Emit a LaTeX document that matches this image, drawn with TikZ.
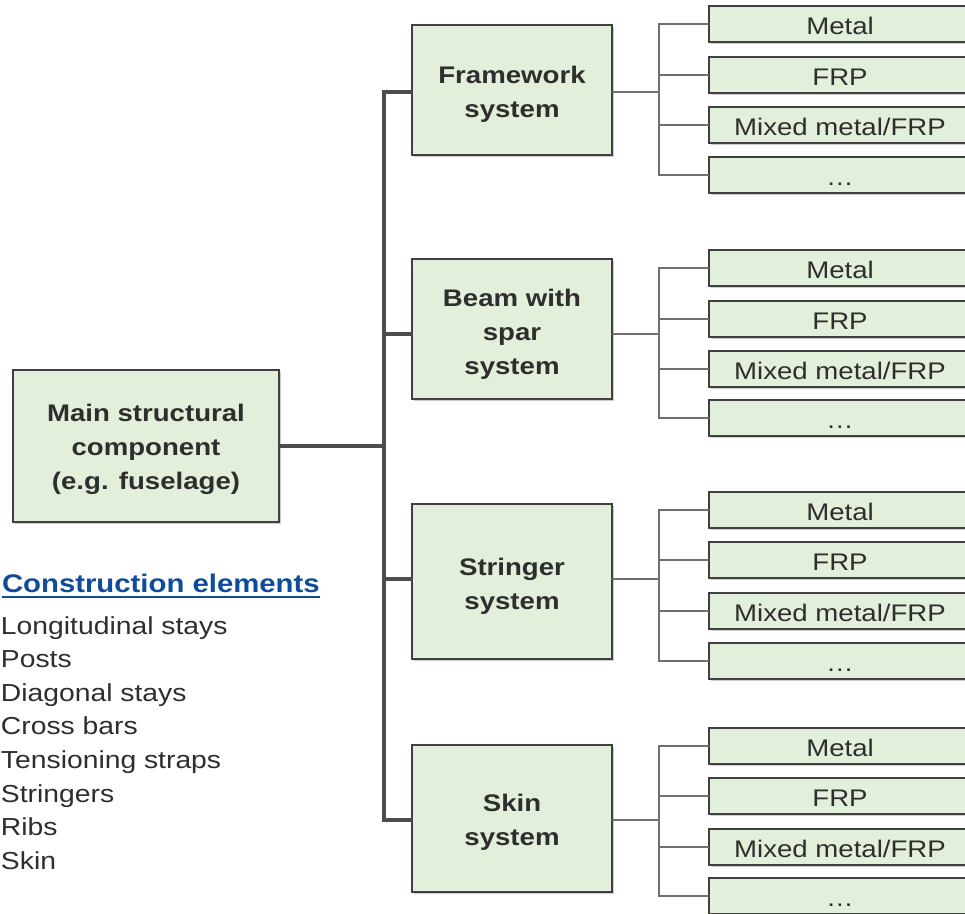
\documentclass[tikz,border=0pt]{standalone}
\usepackage{fontspec}
\setmainfont{Liberation Sans}[FakeStretch=1.15]
\usetikzlibrary{shadows}
\definecolor{boxfill}{HTML}{E2EFDA}
\definecolor{boxline}{HTML}{404040}
\definecolor{txt}{HTML}{2E2E2E}
\definecolor{linkdark}{HTML}{4D4D4D}
\definecolor{linklight}{HTML}{707070}
\definecolor{titleblue}{HTML}{0F4C9A}
% invisible strut that lowers a multi-line label inside its box
\newcommand\lowerby[1]{\rule{0pt}{#1}}

\begin{document}
\begin{tikzpicture}[x=1pt,y=-1pt,
  every node/.style={font=\fontsize{24}{34}\selectfont, text=txt, inner sep=0pt, outer sep=0pt},
  boxbase/.style={draw=boxline, line width=1.5pt, fill=boxfill,
    drop shadow={shadow xshift=1.5pt, shadow yshift=-1.5pt, fill=black, opacity=0.2}},
  mainbox/.style={boxbase, minimum width=266pt, minimum height=152pt, align=center,
    font=\fontsize{24}{34}\selectfont\bfseries},
  sysbox/.style={boxbase, minimum width=200pt, align=center,
    font=\fontsize{24}{34}\selectfont\bfseries},
  leafbox/.style={boxbase, minimum width=262pt, minimum height=36pt,
    text height=21pt, text depth=0pt},
  trunk/.style={draw=linkdark, line width=4pt},
  twig/.style={draw=linklight, line width=1.5pt},
  listitem/.style={anchor=base west, font=\fontsize{24.6}{34}\selectfont}
]
\useasboundingbox (0,0) rectangle (965,913);

% root component
\node[mainbox] (main) at (146,446) {\lowerby{23.5pt}Main structural\\component\\(e.g. fuselage)};

% structural systems
\node[sysbox, minimum height=130pt] (fw) at (512,90)    {\lowerby{25.5pt}Framework\\system};
\node[sysbox, minimum height=140pt] (bm) at (512,329)   {\lowerby{27pt}Beam with\\spar\\system};
\node[sysbox, minimum height=155pt] (st) at (512,581.5) {\lowerby{27pt}Stringer\\system};
\node[sysbox, minimum height=147pt] (sk) at (512,818.5) {\lowerby{25.5pt}Skin\\system};

% material options for each system
\foreach \g/\ya/\yb/\yc/\yd in {fw/24/75/125/175, bm/268/319/369/418,
                                st/510/560/611/661, sk/746/796/847/896} {
  \node[leafbox] (\g-1) at (840,\ya) {Metal};
  \node[leafbox] (\g-2) at (840,\yb) {FRP};
  \node[leafbox] (\g-3) at (840,\yc) {Mixed metal/FRP};
  \node[leafbox] (\g-4) at (840,\yd) {…};
}

% main trunk
\coordinate (jA) at (384,92);
\coordinate (jB) at (384,334);
\coordinate (jC) at (384,579);
\coordinate (jD) at (384,820);
\draw[trunk] (jA -| fw.west) -- (jA) -- (jD) -- (jD -| sk.west);
\draw[trunk] (jB) -- (jB -| bm.west);
\draw[trunk] (jC) -- (jC -| st.west);
\draw[trunk] (main.east) -- (main.east -| jA);

% branches to the material boxes
\foreach \g/\yin in {fw/92, bm/334, st/579, sk/820} {
  \coordinate (\g-bus) at (659,\yin);
  \draw[twig] (\g.east |- \g-bus) -- (\g-bus);
  \draw[twig] (\g-1.west) -| (\g-bus) |- (\g-4.west);
  \draw[twig] (\g-2.west) -- (\g-2.west -| \g-bus);
  \draw[twig] (\g-3.west) -- (\g-3.west -| \g-bus);
}

% construction elements list
\node[anchor=base west, font=\fontsize{25.5}{34}\selectfont\bfseries, text=titleblue]
  (ce) at (2,592) {Construction elements};
\draw[titleblue, line width=2.5pt] ([yshift=-5pt]ce.base west) -- ([yshift=-5pt]ce.base east);
\foreach \t [count=\i] in {Longitudinal stays, Posts, Diagonal stays, Cross bars,
                          Tensioning straps, Stringers, Ribs, Skin} {
  \node[listitem] (ce-\i) at (1, 600.4+33.6*\i) {\t};
}
\end{tikzpicture}
\end{document}
